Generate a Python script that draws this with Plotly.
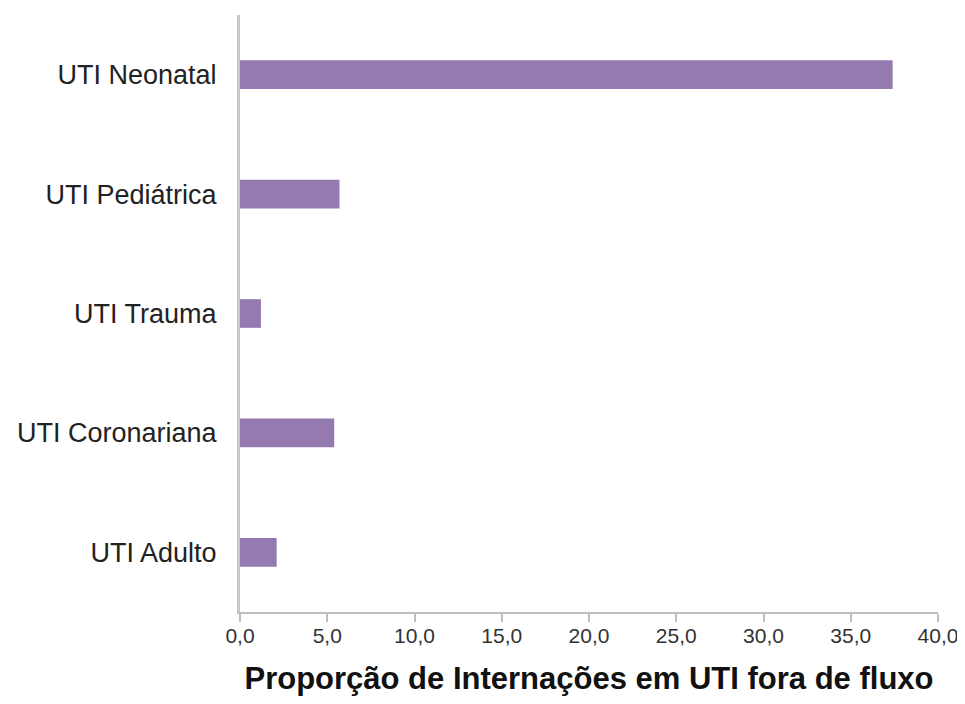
import plotly.graph_objects as go

# categorias de baixo para cima
categorias = ["UTI Adulto", "UTI Coronariana", "UTI Trauma", "UTI Pediátrica", "UTI Neonatal"]
proporcao = [2.1, 5.4, 1.2, 5.7, 37.4]

fig = go.Figure()
fig.add_trace(go.Bar(
    x=proporcao,
    y=categorias,
    orientation="h",
    marker=dict(color="#947AB0", line=dict(width=0)),
    width=0.24,
))

# a página tem 8px de margem no body, por isso a figura é um pouco menor
fig.update_layout(
    width=949, height=688,
    margin=dict(l=232, r=19, t=7, b=84),
    plot_bgcolor="white", paper_bgcolor="white",
    separators=",.",
    showlegend=False,
    font=dict(family="Liberation Sans, Arial, sans-serif", color="#222222"),
    xaxis=dict(
        range=[0, 40], dtick=5, tickformat=".1f",
        showgrid=False, zeroline=False,
        showline=True, linecolor="#bfbfbf", linewidth=2,
        ticks="outside", ticklen=8, tickwidth=2, tickcolor="#bfbfbf",
        tickfont=dict(size=21, color="#333333"),
        ticklabelstandoff=-4, ticklabeloverflow="allow",
        title=dict(text="<b>Proporção de Internações em UTI fora de fluxo</b>",
                   font=dict(size=31, color="#111111"), standoff=28),
        automargin=False,
    ),
    yaxis=dict(
        type="category", categoryorder="array", categoryarray=categorias,
        showgrid=False, zeroline=False,
        showline=True, linecolor="#c8c8c8", linewidth=3,
        ticks="", ticklabelstandoff=15,
        tickfont=dict(size=27, color="#222222"),
        automargin=False,
    ),
)

fig.write_html("out.html")
